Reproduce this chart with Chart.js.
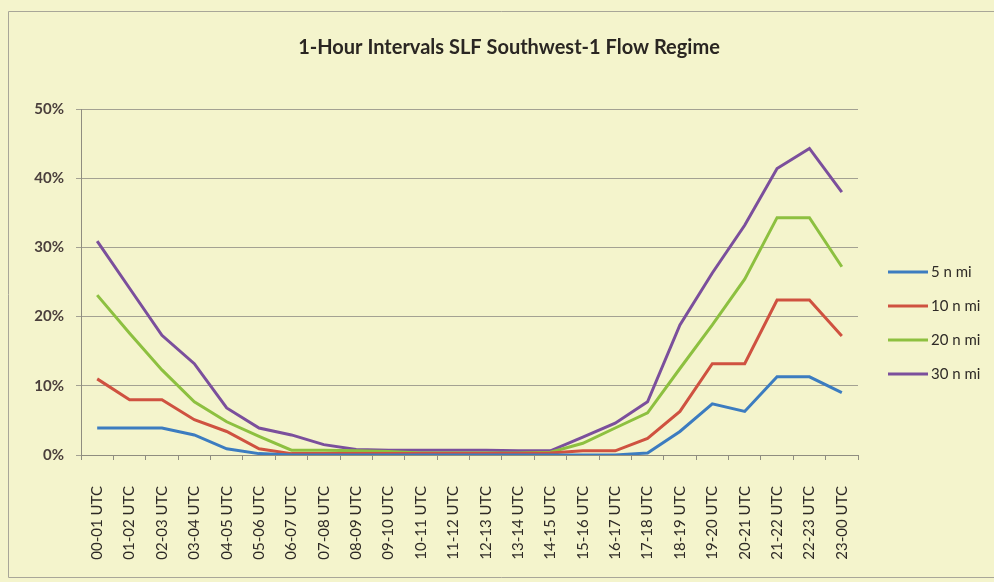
<!DOCTYPE html>
<html>
<head>
<meta charset="utf-8">
<script src="https://cdn.jsdelivr.net/npm/chart.js@4"></script>
<style>
  html, body { margin: 0; padding: 0; background: #f4f4cc; }
  canvas { display: block; }
</style>
</head>
<body>
<canvas id="chart" width="994" height="582"></canvas>
<script>
// ---- data (percent of hours) ----
const hours = [
  '00-01 UTC', '01-02 UTC', '02-03 UTC', '03-04 UTC', '04-05 UTC', '05-06 UTC',
  '06-07 UTC', '07-08 UTC', '08-09 UTC', '09-10 UTC', '10-11 UTC', '11-12 UTC',
  '12-13 UTC', '13-14 UTC', '14-15 UTC', '15-16 UTC', '16-17 UTC', '17-18 UTC',
  '18-19 UTC', '19-20 UTC', '20-21 UTC', '21-22 UTC', '22-23 UTC', '23-00 UTC'
];
const seriesNames = ['5 n mi', '10 n mi', '20 n mi', '30 n mi'];
const nm5 = [3.9, 3.9, 3.9, 2.9, 0.9, 0.2, 0, 0, 0, 0, 0, 0, 0, 0, 0, 0, 0, 0.3, 3.4, 7.4, 6.3, 11.3, 11.3, 9.0];
const nm10 = [11, 8, 8, 5.1, 3.4, 0.9, 0.2, 0.2, 0.2, 0.2, 0.2, 0.2, 0.2, 0.2, 0.3, 0.6, 0.6, 2.4, 6.3, 13.2, 13.2, 22.4, 22.4, 17.2];
const nm20 = [23.1, 17.6, 12.3, 7.7, 4.8, 2.7, 0.7, 0.7, 0.6, 0.5, 0.3, 0.3, 0.3, 0.3, 0.4, 1.7, 3.9, 6.1, 12.5, 18.8, 25.4, 34.3, 34.3, 27.2];
const nm30 = [30.9, 24.1, 17.3, 13.2, 6.8, 3.9, 2.9, 1.5, 0.8, 0.7, 0.7, 0.7, 0.7, 0.6, 0.6, 2.6, 4.6, 7.7, 18.8, 26.3, 33.2, 41.4, 44.3, 38.0];
const yTicks = [0, 10, 20, 30, 40, 50];

const colors = ['#3c7cc0', '#cf5240', '#8dc040', '#7b4f9c'];
const titleText = '1-Hour Intervals SLF Southwest-1 Flow Regime';

// frame + title + legend drawn on the canvas
const decor = {
  id: 'decor',
  beforeDraw(chart) {
    const c = chart.ctx;
    c.save();
    c.strokeStyle = '#a8a698';
    c.lineWidth = 1;
    c.beginPath();
    c.moveTo(994, 11.5); c.lineTo(8.5, 11.5); c.lineTo(8.5, 577.5); c.lineTo(994, 577.5);
    c.stroke();
    c.fillStyle = '#2a2622';
    c.font = 'bold 20px Lato';
    c.textAlign = 'center';
    c.textBaseline = 'middle';
    c.fillText(titleText, 509, 48);
    c.restore();
  },
  afterDraw(chart) {
    const c = chart.ctx;
    c.save();
    chart.data.datasets.forEach((ds, i) => {
      const y = 272 + 34 * i;
      c.strokeStyle = ds.borderColor;
      c.lineWidth = 3;
      c.beginPath();
      c.moveTo(888, y); c.lineTo(928, y);
      c.stroke();
      c.fillStyle = '#2e2a26';
      c.font = '15px Lato';
      c.textAlign = 'left';
      c.textBaseline = 'middle';
      c.fillText(ds.label, 931, y);
    });
    c.restore();
  }
};

const ctx = document.getElementById('chart').getContext('2d');
new Chart(ctx, {
  type: 'line',
  data: {
    labels: hours,
    datasets: [nm5, nm10, nm20, nm30].map((d, i) => ({
      label: seriesNames[i],
      data: d,
      borderColor: colors[i],
      backgroundColor: colors[i],
      borderWidth: 3,
      pointRadius: 0,
      tension: 0,
      fill: false
    }))
  },
  options: {
    responsive: false,
    animation: false,
    devicePixelRatio: 1,
    layout: { padding: { left: 0, right: 136, top: 109, bottom: 0 } },
    plugins: {
      legend: { display: false },
      title: { display: false },
      tooltip: { enabled: false }
    },
    scales: {
      x: {
        offset: true,
        grid: { offset: true, drawOnChartArea: false, drawTicks: true, tickLength: 5, color: '#8f8d80' },
        border: { color: '#8f8d80', width: 1 },
        ticks: {
          autoSkip: false, minRotation: 90, maxRotation: 90, padding: 26,
          color: '#2e2a26', font: { family: 'Lato', size: 15 }
        },
        afterFit(scale) { scale.height = 127; }
      },
      y: {
        min: 0, max: 50,
        afterBuildTicks(scale) { scale.ticks = yTicks.map(v => ({ value: v })); },
        grid: { color: '#a3a192', lineWidth: 1, tickLength: 5 },
        border: { color: '#8f8d80', width: 1 },
        ticks: {
          padding: 12,
          color: '#4a3f3c',
          font: { family: 'Lato', size: 15, weight: 'bold' },
          callback: v => v + '%'
        },
        afterFit(scale) { scale.width = 81; }
      }
    }
  },
  plugins: [decor]
});
</script>
</body>
</html>
